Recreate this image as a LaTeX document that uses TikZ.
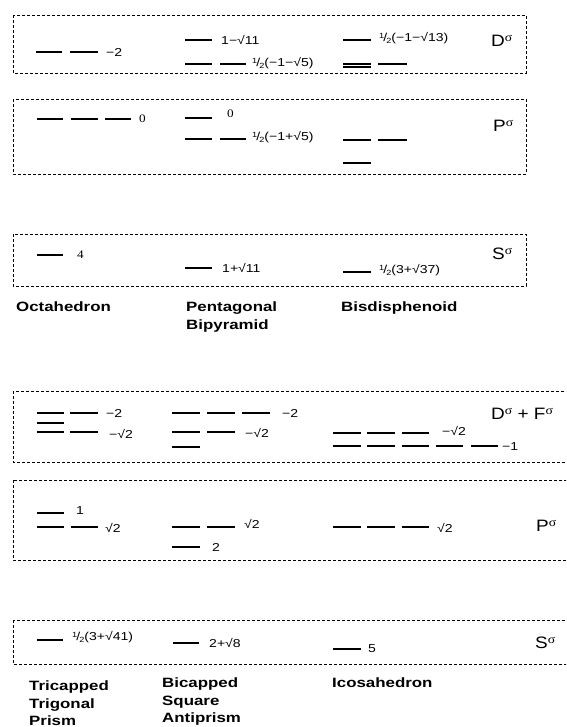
\documentclass[tikz,border=0pt]{standalone}
\usepackage{fontspec}
\setmainfont{Liberation Sans}
\newfontfamily\valfont{Liberation Sans}[FakeStretch=1.22]
\newfontfamily\headfont{Liberation Sans}[FakeStretch=1.25]
\newfontfamily\serfont{Liberation Serif}[FakeStretch=1.15]
\newfontfamily\bigfont{Liberation Sans}[FakeStretch=1.15]
\newcommand\half{\raisebox{0.5ex}{\fontsize{7.5}{7.5}\selectfont 1}\kern-0.08em/\kern-0.08em\raisebox{-0.3ex}{\fontsize{7.5}{7.5}\selectfont 2}}
\newcommand\sig{\raisebox{0.6ex}{\serfont\fontsize{12}{12}\selectfont σ}}
\newcommand\lev[3]{\draw[level] (#1,#3) -- (#2,#3);}
\tikzset{
  level/.style={line width=1.3pt, black},
  boxline/.style={draw, dash pattern=on 3pt off 2pt, line width=0.95pt},
  val/.style={anchor=west, inner sep=0pt, font=\valfont\fontsize{11.5}{13}\selectfont},
  sval/.style={anchor=west, inner sep=0pt, font=\serfont\fontsize{11.5}{13}\selectfont},
  big/.style={anchor=west, inner sep=0pt, font=\bigfont\fontsize{16.5}{18}\selectfont},
  head/.style={anchor=north west, inner sep=0pt, align=left, font=\headfont\bfseries\fontsize{13.5}{17.5}\selectfont},
}
\begin{document}
\begin{tikzpicture}[x=1pt,y=-1pt]
\useasboundingbox (0,0) rectangle (566,727);
\clip (0,0) rectangle (566,727);
% boxes
\draw[boxline] (13,15) rectangle (526,73);
\draw[boxline] (13,99) rectangle (526,174);
\draw[boxline] (13,234) rectangle (526,286);
\draw[boxline] (13,391) rectangle (600,462);
\draw[boxline] (13,480) rectangle (600,560);
\draw[boxline] (13,620) rectangle (600,664);
% ---- box 1 (D sigma)
\lev{36}{62}{52}\lev{70}{98}{52}
\lev{185}{212}{40}
\lev{185}{212}{64}\lev{220}{246}{64}
\lev{343}{371}{40}
\lev{343}{371}{64}\lev{343}{371}{67}\lev{378}{407}{64}
\node[val] (a1) at (106,52) {−2};
\node[val] (a2) at (221,40) {1−√11};
\node[val] (a3) at (252,63) {\half(−1−√5)};
\node[val] (a4) at (379,38) {\half(−1−√13)};
\node[big] (a5) at (491,41) {D\sig};
% ---- box 2 (P sigma)
\lev{37}{63}{119}\lev{71}{98}{119}\lev{105}{131}{119}
\lev{185}{212}{118}
\lev{185}{212}{139}\lev{220}{246}{139}
\lev{343}{371}{140}\lev{378}{407}{140}
\lev{343}{371}{163}
\node[sval] (b1) at (139,119) {0};
\node[sval] (b2) at (227,114) {0};
\node[val] (b3) at (252,137) {\half(−1+√5)};
\node[big] (b4) at (493,126) {P\sig};
% ---- box 3 (S sigma)
\lev{37}{63}{255}
\lev{185}{212}{268}
\lev{343}{371}{272}
\node[sval] (c1) at (77,255) {4};
\node[val] (c2) at (222,268) {1+√11};
\node[val] (c3) at (379,270) {\half(3+√37)};
\node[big] (c4) at (492,254) {S\sig};
% headings row 1
\node[head] (h1) at (16,302) {Octahedron};
\node[head] (h2) at (186,302) {Pentagonal\\Bipyramid};
\node[head] (h3) at (341,302) {Bisdisphenoid};
% ---- box 4 (D+F sigma)
\lev{37}{64}{413}\lev{70}{98}{413}
\lev{37}{64}{423}
\lev{37}{64}{432}\lev{70}{98}{432}
\lev{172}{200}{413}\lev{207}{235}{413}\lev{242}{270}{413}
\lev{172}{200}{432}\lev{207}{235}{432}
\lev{172}{200}{447}
\lev{333}{361}{433}\lev{367}{395}{433}\lev{402}{429}{433}
\lev{333}{361}{446}\lev{367}{395}{446}\lev{402}{429}{446}\lev{436}{463}{446}\lev{471}{498}{446}
\node[val] (d1) at (106,413) {−2};
\node[val] (d2) at (109,434) {−√2};
\node[val] (d3) at (282,413) {−2};
\node[val] (d4) at (245,433) {−√2};
\node[val] (d5) at (442,431) {−√2};
\node[val] (d6) at (502,447) {−1};
\node[big] (d7) at (491,414) {D\sig\ + F\sig};
% ---- box 5 (P sigma)
\lev{37}{64}{513}
\lev{37}{64}{527}\lev{71}{98}{527}
\lev{172}{200}{527}\lev{207}{235}{527}
\lev{172}{200}{547}
\lev{333}{361}{527}\lev{367}{395}{527}\lev{402}{429}{527}
\node[val] (e1) at (76,511) {1};
\node[val] (e2) at (105,528) {√2};
\node[val] (e3) at (244,524) {√2};
\node[val] (e4) at (212,547) {2};
\node[val] (e5) at (437,528) {√2};
\node[big] (e6) at (536,526) {P\sig};
% ---- box 6 (S sigma)
\lev{37}{63}{640}
\lev{173}{199}{643}
\lev{333}{361}{649}
\node[val] (f1) at (72,637) {\half(3+√41)};
\node[val] (f2) at (209,643) {2+√8};
\node[val] (f3) at (368,649) {5};
\node[big] (f4) at (535,643) {S\sig};
% headings row 2
\node[head] (g1) at (29,681) {Tricapped\\Trigonal\\Prism};
\node[head] (g2) at (162,678) {Bicapped\\Square\\Antiprism};
\node[head] (g3) at (332,678) {Icosahedron};
\end{tikzpicture}
\end{document}
